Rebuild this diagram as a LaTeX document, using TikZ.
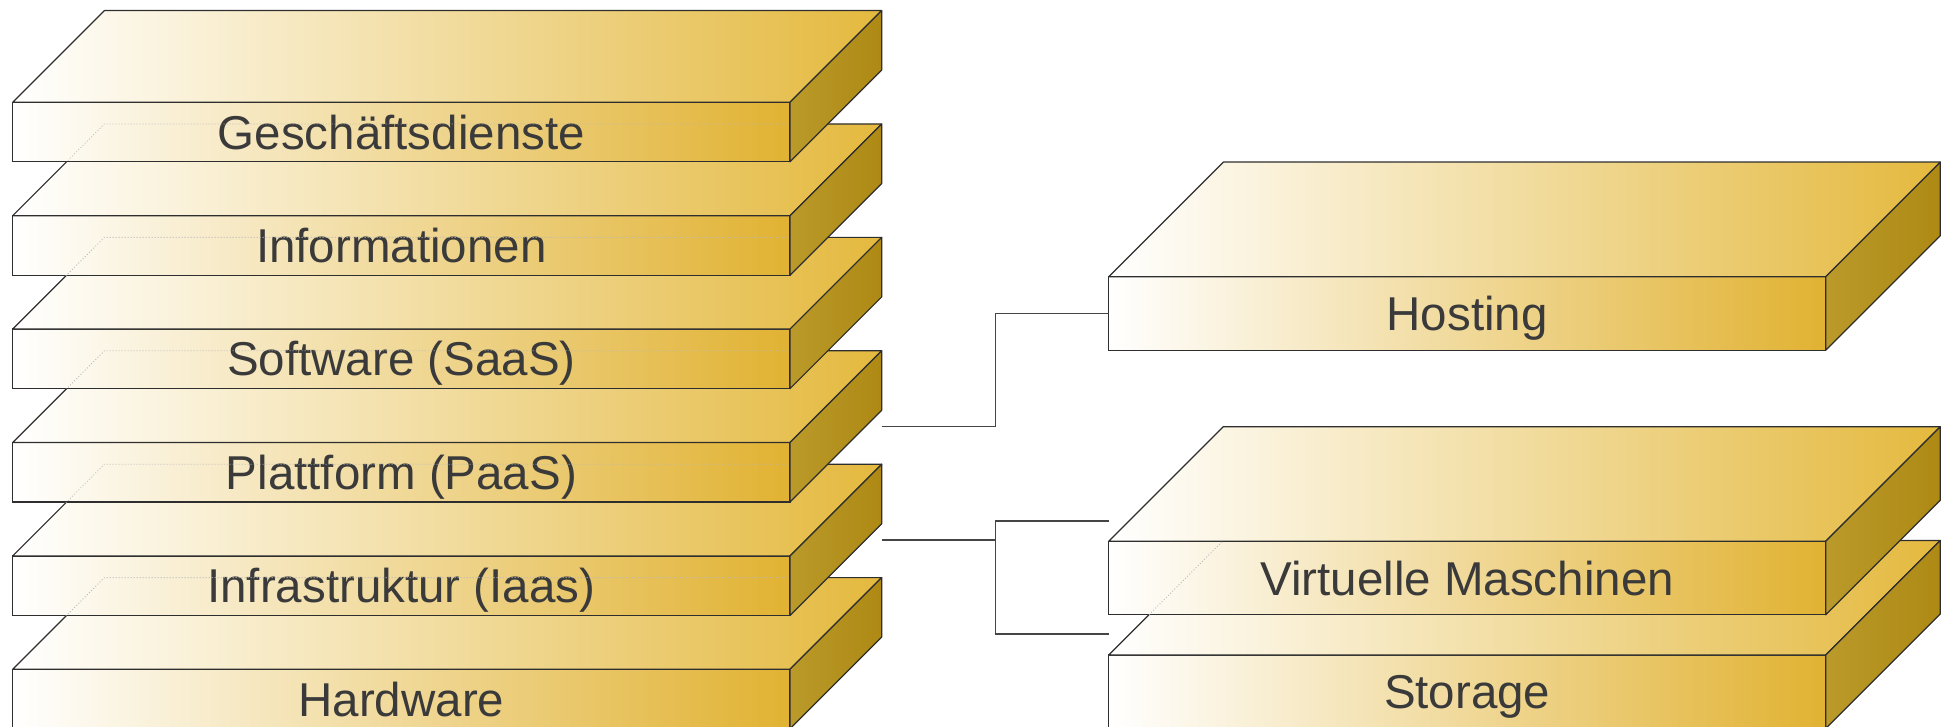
\documentclass[tikz,border=0pt]{standalone}
\usepackage{fontspec}
\setmainfont{Liberation Sans}
\usetikzlibrary{calc}
\definecolor{goldR}{HTML}{E1B232}
\definecolor{goldTop}{HTML}{E4B93E}
\definecolor{sideL}{HTML}{BA9A2A}
\definecolor{sideR}{HTML}{AE8914}
\definecolor{edge}{HTML}{2E2E2E}
\definecolor{txt}{HTML}{3A3A3A}
\definecolor{conncol}{HTML}{454545}
\tikzset{
  front/.style={draw=edge, line width=1.2pt, shade, left color=white, right color=goldR,
    inner sep=0pt, outer sep=0pt, text=txt, text height=34pt, text depth=0pt,
    font=\fontsize{47.5}{57}\selectfont},
  topface/.style={draw=edge, line width=1.2pt, line join=round, left color=white, right color=goldTop},
  sideface/.style={draw=edge, line width=1.2pt, line join=round, left color=sideL, right color=sideR},
  hiddenedge/.style={draw=gray!55, line width=0.8pt, dash pattern=on 1pt off 2pt},
  conn/.style={draw=conncol, line width=1.3pt}
}
% #1 name, #2 left x, #3 top y, #4 width, #5 height, #6 depth, #7 text
\newcommand{\mkslab}[7]{%
  \node[front, minimum width=#4pt, minimum height=#5pt, anchor=north west] (#1) at (#2,#3) {#7};
  \shade[topface] (#1.north west) -- ++(#6,-#6) -- ++(#4,0) -- (#1.north east) -- cycle;
  \shade[sideface] (#1.north east) -- ++(#6,-#6) -- ++(0,#5) -- (#1.south east) -- cycle;
}
% hidden edges of slab #2 (depth #3, width #4) seen through front of slab #1
\newcommand{\mkhidden}[4]{%
  \begin{scope}
    \clip (#1.north west) rectangle (#1.south east);
    \draw[hiddenedge] (#2.north west) -- ++(#3,-#3) -- ++(#4,0);
  \end{scope}
}
\begin{document}
\begin{tikzpicture}[x=1pt,y=-1pt]
\useasboundingbox (0,0) rectangle (1952,727);
\clip (0,0) rectangle (1952,727);
% left stack, drawn bottom to top
\mkslab{hw}{12.7}{669.3}{777.3}{59.5}{91.7}{Hardware}
\mkslab{iaas}{12.7}{555.9}{777.3}{59.5}{91.7}{Infrastruktur (Iaas)}
\mkslab{paas}{12.7}{442.5}{777.3}{59.5}{91.7}{Plattform (PaaS)}
\mkslab{saas}{12.7}{329.1}{777.3}{59.5}{91.7}{Software (SaaS)}
\mkslab{info}{12.7}{215.7}{777.3}{59.5}{91.7}{Informationen}
\mkslab{gd}{12.7}{102.3}{777.3}{59.5}{91.7}{Geschäftsdienste}
% right side
\mkslab{st}{1108.7}{655.0}{717.0}{73.5}{114.6}{Storage}
\mkslab{vm}{1108.7}{541.3}{717.0}{73.5}{114.6}{Virtuelle Maschinen}
\mkslab{host}{1108.7}{276.7}{717.0}{73.5}{114.6}{Hosting}
% hidden edges
\mkhidden{gd}{info}{91.7}{777.3}
\mkhidden{info}{saas}{91.7}{777.3}
\mkhidden{saas}{paas}{91.7}{777.3}
\mkhidden{paas}{iaas}{91.7}{777.3}
\mkhidden{iaas}{hw}{91.7}{777.3}
\mkhidden{vm}{st}{114.6}{717.0}
% connectors
\coordinate (pa) at (881.7,426.3);
\coordinate (pb) at (881.7,540.0);
\coordinate (ta) at (1108.7,521.0);
\coordinate (tb) at (1108.7,634.0);
\draw[conn] (pa) -- (995.7,426.3) |- (host.west);
\draw[conn] (pb) -- (995.7,540.0);
\draw[conn] (ta) -| (995.7,634.0) -- (tb);
\end{tikzpicture}
\end{document}
